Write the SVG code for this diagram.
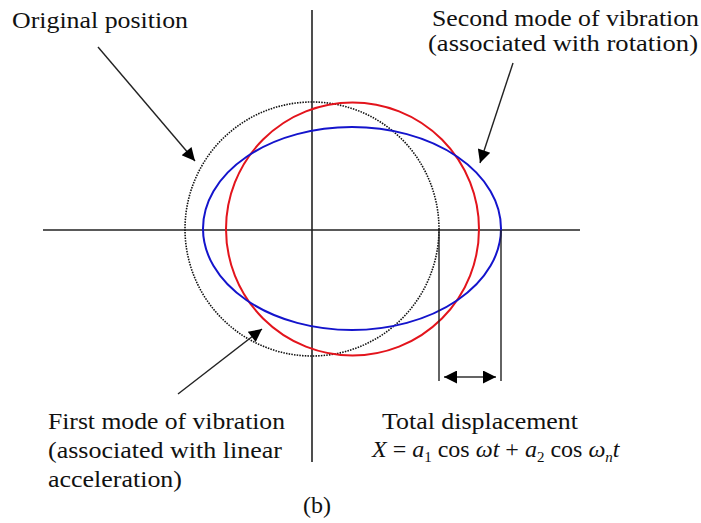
<svg xmlns="http://www.w3.org/2000/svg" width="701" height="523" viewBox="0 0 701 523">
<style>
text{font-family:'Liberation Serif','Times New Roman','DejaVu Serif',serif;font-size:24px;fill:#111}
.ax{stroke:#222;stroke-width:1.6;fill:none}
.ln{stroke:#222;stroke-width:1.4;fill:none}
.i{font-style:italic}
</style>
<defs>
<marker id="ah" viewBox="0 0 10 10" refX="10" refY="5" markerWidth="16" markerHeight="13" markerUnits="userSpaceOnUse" orient="auto">
<path d="M0,0 L10,5 L0,10 z" fill="#000"/>
</marker>
</defs>
<rect width="701" height="523" fill="#fff"/>
<g id="axes">
<line class="ax" x1="312" y1="10" x2="312" y2="462"/>
<line class="ax" x1="43" y1="230" x2="580" y2="230"/>
</g>
<g id="original">
<circle cx="312" cy="229" r="127" fill="none" stroke="#111" stroke-width="1.6" stroke-dasharray="1.5 1.2"/>
</g>
<g id="mode2">
<circle cx="352.5" cy="229" r="126.5" fill="none" stroke="#e3141c" stroke-width="2"/>
</g>
<g id="mode1">
<ellipse cx="352" cy="228.5" rx="149" ry="101.5" fill="none" stroke="#1414cc" stroke-width="2"/>
</g>
<g id="connectors">
<line class="ln" x1="98" y1="47" x2="195" y2="161" marker-end="url(#ah)"/>
<line class="ln" x1="513" y1="63" x2="480" y2="163" marker-end="url(#ah)"/>
<line class="ln" x1="178" y1="394" x2="262" y2="329" marker-end="url(#ah)"/>
<line class="ln" x1="439" y1="230" x2="439" y2="381"/>
<line class="ln" x1="501" y1="230" x2="501" y2="381"/>
<line class="ln" x1="470" y1="377" x2="444" y2="377" marker-end="url(#ah)"/>
<line class="ln" x1="470" y1="377" x2="496" y2="377" marker-end="url(#ah)"/>
</g>
<g id="labels">
<text x="12" y="28" textLength="176" lengthAdjust="spacingAndGlyphs">Original position</text>
<text x="432" y="26" textLength="267" lengthAdjust="spacingAndGlyphs">Second mode of vibration</text>
<text x="428" y="51" textLength="270" lengthAdjust="spacingAndGlyphs">(associated with rotation)</text>
<text x="48" y="429" textLength="237" lengthAdjust="spacingAndGlyphs">First mode of vibration</text>
<text x="48" y="458" textLength="234" lengthAdjust="spacingAndGlyphs">(associated with linear</text>
<text x="48" y="487" textLength="134" lengthAdjust="spacingAndGlyphs">acceleration)</text>
<text x="382" y="429" textLength="196" lengthAdjust="spacingAndGlyphs">Total displacement</text>
<text x="372" y="457"><tspan class="i">X</tspan> = <tspan class="i">a</tspan><tspan font-size="15" dy="5">1</tspan><tspan dy="-5"> cos </tspan><tspan class="i">ωt</tspan> + <tspan class="i">a</tspan><tspan font-size="15" dy="5">2</tspan><tspan dy="-5"> cos </tspan><tspan class="i">ω</tspan><tspan class="i" font-size="15" dy="5">n</tspan><tspan class="i" dy="-5">t</tspan></text>
<text x="303" y="513">(b)</text>
</g>
</svg>
